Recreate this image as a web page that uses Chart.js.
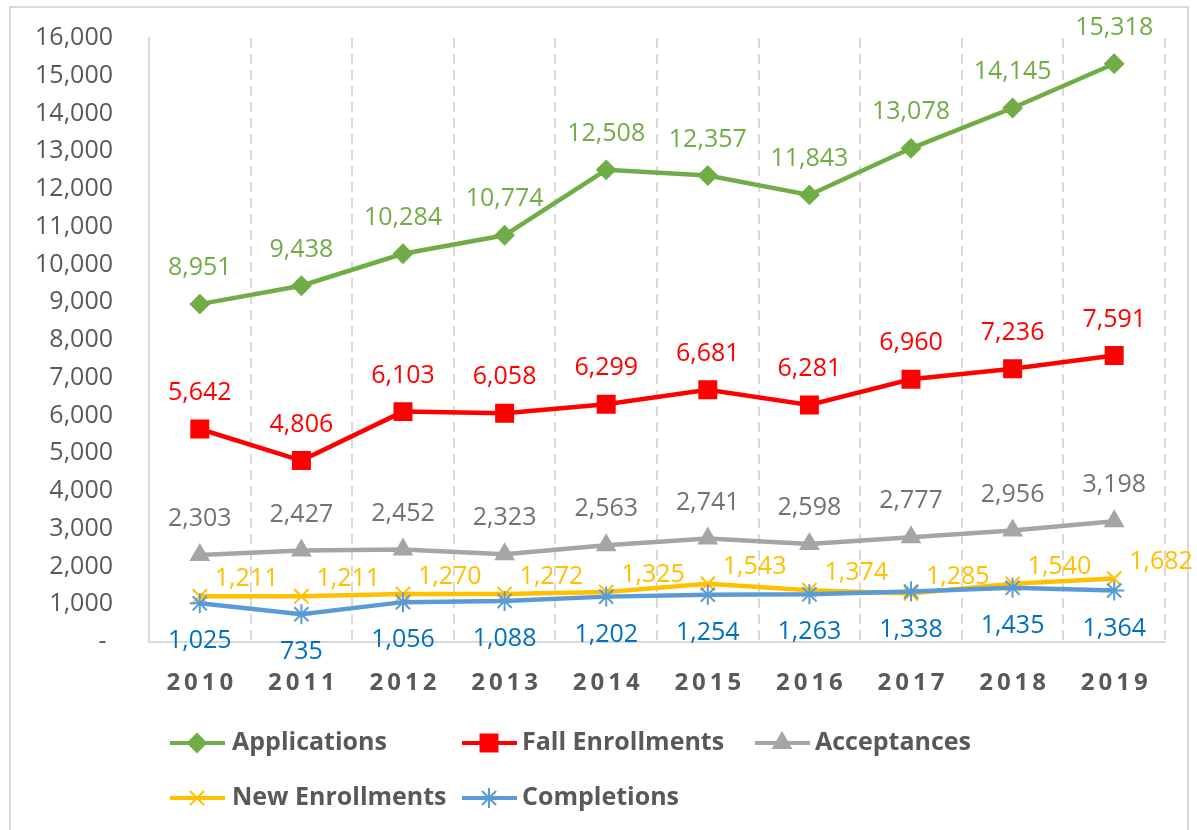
<!DOCTYPE html>
<html>
<head>
<meta charset="utf-8">
<script src="https://cdn.jsdelivr.net/npm/chart.js@4"></script>
<style>
  body { margin: 0; background: #fff; }
  #wrap { position: relative; width: 1197px; height: 830px; overflow: hidden; }
  #frame { position: absolute; left: 9px; top: 6px; width: 1180px; height: 840px; border: 2px solid #d9d9d9; box-sizing: border-box; }
  canvas { position: absolute; left: 0; top: 0; }
</style>
</head>
<body>
<div id="wrap">
  <div id="frame"></div>
  <canvas id="chart" width="1197" height="830"></canvas>
</div>
<script>
const years = ['2010', '2011', '2012', '2013', '2014', '2015', '2016', '2017', '2018', '2019'];
const applications = [8951, 9438, 10284, 10774, 12508, 12357, 11843, 13078, 14145, 15318];
const fallEnrollments = [5642, 4806, 6103, 6058, 6299, 6681, 6281, 6960, 7236, 7591];
const acceptances = [2303, 2427, 2452, 2323, 2563, 2741, 2598, 2777, 2956, 3198];
const newEnrollments = [1211, 1211, 1270, 1272, 1325, 1543, 1374, 1285, 1540, 1682];
const completions = [1025, 735, 1056, 1088, 1202, 1254, 1263, 1338, 1435, 1364];

const FONT = '"Open Sans"';
const TEXT = '#595959';

// where each series puts its value labels
const labelSetup = [
    { pos: 'above', color: '#70ad47' },
    { pos: 'above', color: '#ff0000' },
    { pos: 'above', color: '#767171' },
    { pos: 'right', color: '#ffc000' },
    { pos: 'below', color: '#0070c0' }
];

// legend slots (Excel style layout)
const legendSlots = [
    { x: 170, y: 743, t: 62 }, { x: 462, y: 743, t: 60 }, { x: 755, y: 743, t: 60 },
    { x: 170, y: 798, t: 62 }, { x: 462, y: 798, t: 60 }
];

const valueLabels = {
    id: 'valueLabels',
    afterDatasetsDraw(chart) {
        const ctx = chart.ctx;
        ctx.save();
        ctx.font = '25px ' + FONT;
        chart.data.datasets.forEach((ds, i) => {
            const meta = chart.getDatasetMeta(i);
            const cfg = labelSetup[i];
            ctx.fillStyle = cfg.color;
            meta.data.forEach((pt, j) => {
                const txt = ds.data[j].toLocaleString('en-US');
                if (cfg.pos === 'above') {
                    ctx.textAlign = 'center'; ctx.textBaseline = 'middle';
                    ctx.fillText(txt, pt.x, pt.y - 36);
                } else if (cfg.pos === 'below') {
                    ctx.textAlign = 'center'; ctx.textBaseline = 'middle';
                    ctx.fillText(txt, pt.x, pt.y + 38);
                } else {
                    ctx.textAlign = 'left'; ctx.textBaseline = 'middle';
                    ctx.fillText(txt, pt.x + 15, pt.y - 17);
                }
            });
        });
        ctx.restore();
    }
};

const slotLegend = {
    id: 'slotLegend',
    afterDraw(chart) {
        const ctx = chart.ctx;
        ctx.save();
        chart.data.datasets.forEach((ds, i) => {
            const s = legendSlots[i];
            ctx.strokeStyle = ds.borderColor;
            ctx.lineWidth = 4;
            ctx.beginPath();
            ctx.moveTo(s.x, s.y);
            ctx.lineTo(s.x + 55, s.y);
            ctx.stroke();
            ctx.fillStyle = ds.pointBackgroundColor;
            ctx.strokeStyle = ds.borderColor;
            ctx.lineWidth = ds.pointBorderWidth;
            Chart.helpers.drawPoint(ctx, { pointStyle: ds.pointStyle, radius: ds.pointRadius, rotation: 0, borderWidth: ds.pointBorderWidth }, s.x + 27, s.y);
            ctx.fillStyle = TEXT;
            ctx.font = 'bold 25px ' + FONT;
            ctx.textAlign = 'left';
            ctx.textBaseline = 'middle';
            ctx.fillText(ds.label, s.x + s.t, s.y);
        });
        ctx.restore();
    }
};

function series(label, data, color, style, radius, order) {
    return {
        label: label,
        data: data,
        borderColor: color,
        backgroundColor: color,
        pointBackgroundColor: color,
        pointBorderColor: color,
        pointStyle: style,
        pointRadius: radius,
        pointBorderWidth: 2,
        borderWidth: 4.5,
        tension: 0,
        order: order
    };
}

new Chart(document.getElementById('chart'), {
    type: 'line',
    data: {
        labels: years,
        datasets: [
            series('Applications', applications, '#70ad47', 'rectRot', 9, 0),
            series('Fall Enrollments', fallEnrollments, '#ff0000', 'rect', 12, 1),
            series('Acceptances', acceptances, '#a5a5a5', 'triangle', 10, 2),
            series('New Enrollments', newEnrollments, '#ffc000', 'crossRot', 10, 3),
            series('Completions', completions, '#5b9bd5', 'star', 10, 2.5)
        ]
    },
    options: {
        responsive: false,
        animation: false,
        layout: { autoPadding: false, padding: { left: 10, right: 32, top: 38, bottom: 0 } },
        plugins: {
            legend: { display: false },
            tooltip: { enabled: false }
        },
        scales: {
            x: {
                offset: true,
                grid: { offset: true, color: '#d9d9d9', lineWidth: 2, drawTicks: false },
                border: { display: true, color: '#d9d9d9', width: 2, dash: [10, 6] },
                ticks: {
                    color: TEXT,
                    padding: 27,
                    font: { family: FONT, size: 24, weight: 'bold' },
                    callback: function (v) { return years[v].split('').join('\u2009'); }
                },
                afterFit(scale) { scale.height = 188; }
            },
            y: {
                min: 0,
                max: 16000,
                grid: { display: false, drawTicks: false },
                border: { display: true, color: '#d9d9d9', width: 2 },
                ticks: {
                    stepSize: 1000,
                    color: TEXT,
                    padding: 36,
                    font: { family: FONT, size: 25 },
                    callback: function (v) { return v === 0 ? '- ' : v.toLocaleString('en-US'); }
                },
                afterFit(scale) {
                    scale.width = 139;
                    scale.paddingTop = 0;
                    scale.paddingBottom = 0;
                }
            }
        }
    },
    plugins: [valueLabels, slotLegend]
});
</script>
</body>
</html>
